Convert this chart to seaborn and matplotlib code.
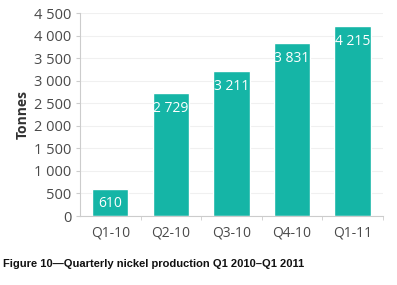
import numpy as np
import pandas as pd
import matplotlib
matplotlib.use("Agg")
import matplotlib.pyplot as plt
from matplotlib.ticker import FuncFormatter, FixedLocator
import seaborn as sns

# donnees
quarters = ["Q1-10", "Q2-10", "Q3-10", "Q4-10", "Q1-11"]
tonnes = [610, 2729, 3211, 3831, 4215]
yticks = [0, 500, 1000, 1500, 2000, 2500, 3000, 3500, 4000, 4500]

df = pd.DataFrame({"quarter": quarters, "tonnes": tonnes})

sns.set_style("white")
plt.rcParams["font.family"] = ["Open Sans", "DejaVu Sans"]

fig = plt.figure(figsize=(3.97, 2.85), dpi=100)
ax = fig.add_axes([0.2015, 0.242, 0.763, 0.712])

teal = "#15b5a6"
sns.barplot(data=df, x="quarter", y="tonnes", color=teal, width=0.6,
            saturation=1, ax=ax)

def fmt(v, pos=None):
    return f"{int(v):,}".replace(",", " ")

for i, v in enumerate(tonnes):
    ax.annotate(fmt(v), (i, v), xytext=(0, -11), textcoords="offset points",
                ha="center", va="center", color="white", fontsize=10,
                fontweight="medium")

ax.set_ylim(0, 4500)
ax.set_xlim(-0.5, 4.5)
ax.set_yticks(yticks)
ax.yaxis.set_major_formatter(FuncFormatter(fmt))
ax.grid(axis="y", color="#f0f0f0", linewidth=0.8)
ax.set_axisbelow(True)
ax.set_xlabel("")
ax.set_ylabel("Tonnes", fontsize=10, fontweight="bold", color="#333333", labelpad=3)

for s in ["top", "right"]:
    ax.spines[s].set_visible(False)
for s in ["left", "bottom"]:
    ax.spines[s].set_color("#cccccc")
    ax.spines[s].set_linewidth(0.8)

ax.tick_params(axis="y", length=3, color="#cccccc", labelsize=10.5,
               labelcolor="#4a4a4a", pad=3, left=True)
ax.tick_params(axis="x", which="major", length=0, labelsize=10,
               labelcolor="#4a4a4a", pad=7)
ax.xaxis.set_minor_locator(FixedLocator([0.5, 1.5, 2.5, 3.5, 4.5]))
ax.tick_params(axis="x", which="minor", length=3, color="#cccccc", bottom=True)

fig.text(0.008, 0.063, "Figure 10\u2014Quarterly nickel production Q1 2010\u2013Q1 2011",
         fontsize=8, fontweight="bold", color="#111111",
         family=["Liberation Sans", "DejaVu Sans"])

fig.savefig("out.png", dpi=100)
